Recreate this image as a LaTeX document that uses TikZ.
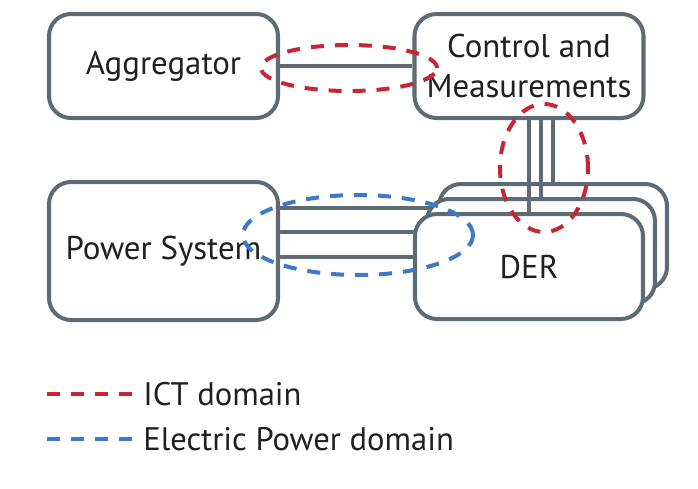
\documentclass[tikz,border=0pt]{standalone}
\usepackage{fontspec}
\setmainfont{PT Sans}
\usetikzlibrary{positioning, calc}
\definecolor{boxgray}{RGB}{95,107,114}
\definecolor{ictred}{RGB}{200,38,52}
\definecolor{powblue}{RGB}{62,120,200}
\definecolor{txtblack}{RGB}{35,31,32}

\begin{document}
\begin{tikzpicture}[
  boxnode/.style={rectangle, draw=boxgray, fill=white, line width=2.85pt, rounded corners=0.55cm, minimum width=5.725cm, minimum height=2.6cm, inner sep=0pt, align=center, text=txtblack, font=\fontsize{23.4}{28.5}\selectfont},
  dernode/.style={boxnode, minimum width=5.7cm, minimum height=2.625cm},
  link/.style={draw=boxgray, line width=2.85pt},
  ictzone/.style={draw=ictred, line width=2.85pt, dash pattern=on 0.325cm off 0.275cm},
  powzone/.style={ictzone, draw=powblue},
  legtext/.style={anchor=west, inner sep=0pt, text=txtblack, font=\fontsize{23.2}{28.5}\selectfont}
]
  \useasboundingbox (0,0) rectangle (17.45,-12.2);

  % Cajas principales
  \node[boxnode] (agg) at (4.0875,-1.65) {Aggregator};
  \node[boxnode] (ctrl) at (13.225,-1.65) {Control and\\Measurements};
  \node[boxnode, minimum height=3.45cm] (ps) at (4.0875,-6.275) {Power System};
  \draw[link] (agg) -- (ctrl);

  % Pila de DER (de atras hacia delante)
  \node[dernode] (der3) at (13.825,-5.9125) {};
  \draw[link] (ctrl.south -| der3.north) -- (der3.north);
  \draw[link] ([yshift=1.075cm]ps.east) -- ([yshift=1.075cm]ps.east -| der3.west);

  \node[dernode] (der2) at (13.525,-6.2875) {};
  \draw[link] (ctrl.south -| der2.north) -- (der2.north);
  \draw[link] ([yshift=0.475cm]ps.east) -- ([yshift=0.475cm]ps.east -| der2.west);

  \node[dernode] (der1) at (13.225,-6.6625) {DER};
  \draw[link] (ctrl.south -| der1.north) -- (der1.north);
  \draw[link] ([yshift=-0.15cm]ps.east) -- ([yshift=-0.15cm]ps.east -| der1.west);

  % Dominios
  \draw[ictzone] (8.725,-1.7) ellipse [x radius=2.2cm, y radius=0.575cm];
  \draw[ictzone] (13.6,-4.2) ellipse [x radius=1.1cm, y radius=1.6cm];
  \draw[powzone] (8.95,-5.875) ellipse [x radius=2.875cm, y radius=1.0cm];

  % Leyenda
  \node[legtext] (legict) at (3.575,-9.85) {ICT domain};
  \node[legtext] (legpow) at (3.575,-10.98) {Electric Power domain};
  \draw[ictzone] ([xshift=-0.275cm]legict.west) -- ++(-2.125,0);
  \draw[powzone] ([xshift=-0.275cm]legpow.west) -- ++(-2.125,0);

\end{tikzpicture}
\end{document}
